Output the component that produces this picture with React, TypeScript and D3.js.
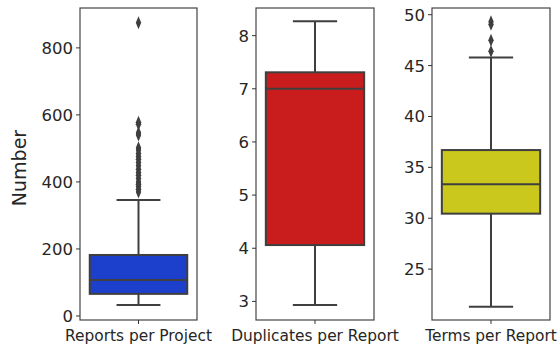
import React from 'react';
import * as d3 from 'd3';

// box stats: [low whisker, q1, median, q3, high whisker]
const categories = ['Reports per Project', 'Duplicates per Report', 'Terms per Report'];
const boxStats = [
  [33, 66, 107, 182, 346],
  [2.93, 4.06, 7.0, 7.31, 8.27],
  [21.3, 30.45, 33.35, 36.7, 45.8],
];
const outliers = [
  [875, 578, 572, 547, 540, 502, 495, 485, 476, 468, 458, 448, 438, 428, 420, 410, 400, 393, 386, 378, 370],
  [],
  [49.3, 49.05, 47.5, 46.4],
];
const yDomains = [
  [-12, 919],
  [2.65, 8.52],
  [20.0, 50.66],
];
const yTicks = [
  [0, 200, 400, 600, 800],
  [3, 4, 5, 6, 7, 8],
  [25, 30, 35, 40, 45, 50],
];
const colors = ['#1c40cc', '#c91c1c', '#cac81d'];

const frames = [
  { left: 80, right: 197 },
  { left: 256, right: 374 },
  { left: 432, right: 550 },
];
const top = 8;
const bottom = 320;
const line = '#3f3f3f';
const font = 'DejaVu Sans, sans-serif';

function Panel({ i }: { i: number }) {
  const f = frames[i];
  const y = d3.scaleLinear().domain(yDomains[i]).range([bottom, top]);
  const x = d3.scaleBand().domain([categories[i]]).range([f.left, f.right]).paddingInner(0).paddingOuter(0.1);
  const cx = x(categories[i])! + x.bandwidth() / 2;
  const boxW = x.bandwidth();
  const capW = boxW * 0.45;
  const [lo, q1, med, q3, hi] = boxStats[i];
  const diamond = d3.symbol().type(d3.symbolDiamond).size(40);
  return (
    <g>
      <line x1={cx} x2={cx} y1={y(lo)} y2={y(q1)} stroke={line} strokeWidth={2} />
      <line x1={cx} x2={cx} y1={y(q3)} y2={y(hi)} stroke={line} strokeWidth={2} />
      <line x1={cx - capW / 2} x2={cx + capW / 2} y1={y(lo)} y2={y(lo)} stroke={line} strokeWidth={2} />
      <line x1={cx - capW / 2} x2={cx + capW / 2} y1={y(hi)} y2={y(hi)} stroke={line} strokeWidth={2} />
      <rect x={cx - boxW / 2} y={y(q3)} width={boxW} height={y(q1) - y(q3)} fill={colors[i]} stroke={line} strokeWidth={2} />
      <line x1={cx - boxW / 2} x2={cx + boxW / 2} y1={y(med)} y2={y(med)} stroke={line} strokeWidth={2} />
      {outliers[i].map((v, k) => (
        <path key={k} d={diamond()!} transform={`translate(${cx},${y(v)}) scale(0.8,1.1)`} fill={line} />
      ))}
      <rect x={f.left} y={top} width={f.right - f.left} height={bottom - top} fill="none" stroke="#444" strokeWidth={1.2} />
      {yTicks[i].map((t) => (
        <g key={t} transform={`translate(${f.left},${y(t)})`}>
          <line x1={-4} x2={0} stroke="#333" strokeWidth={1} />
          <text x={-7} dy="0.36em" textAnchor="end" fontSize={16.5} fontFamily={font} fill="#262626">{t}</text>
        </g>
      ))}
      <line x1={cx} x2={cx} y1={bottom} y2={bottom + 4} stroke="#333" strokeWidth={1} />
      <text x={cx} y={bottom + 21} textAnchor="middle" fontSize={15.4} fontFamily={font} fill="#262626">{categories[i]}</text>
    </g>
  );
}

export default function App() {
  return (
    <svg width={558} height={346} style={{ position: 'absolute', left: 0, top: 0, background: '#fff' }}>
      <text transform="translate(26,168) rotate(-90)" textAnchor="middle" fontSize={19} fontFamily={font} fill="#262626">Number</text>
      {categories.map((c, i) => <Panel key={c} i={i} />)}
    </svg>
  );
}
